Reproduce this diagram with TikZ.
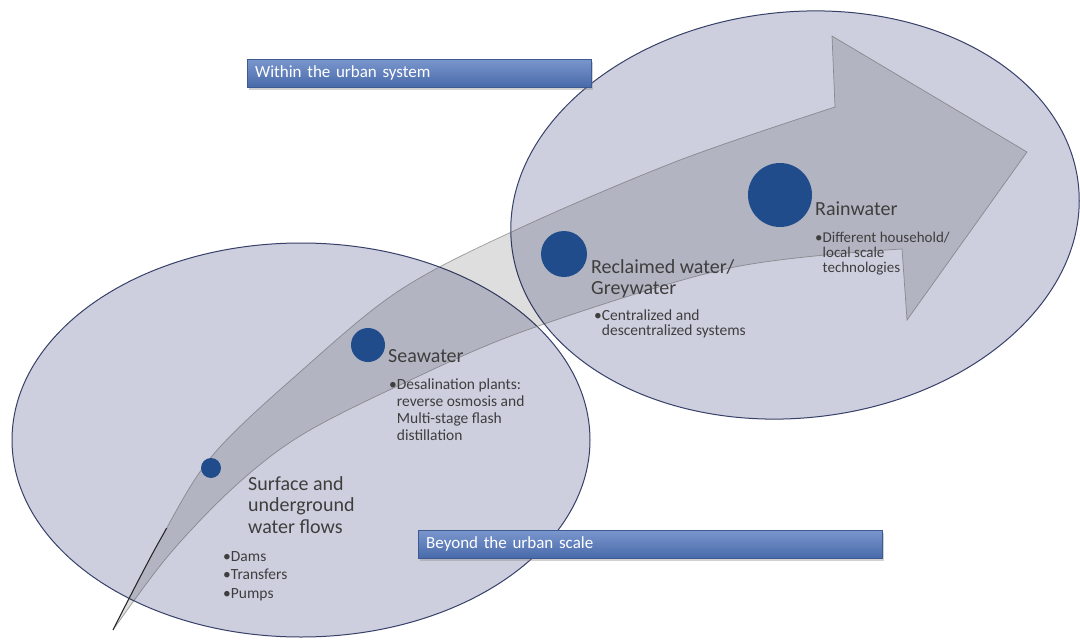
\documentclass[tikz,border=0pt]{standalone}
\usepackage{fontspec}
\setmainfont{Carlito}
\usetikzlibrary{shadows}

\definecolor{ellfill}{RGB}{205,207,222}
\definecolor{ellline}{RGB}{55,64,105}
\definecolor{dotblue}{RGB}{32,76,140}
\definecolor{txt}{RGB}{62,62,62}
\definecolor{bartop}{RGB}{122,150,205}
\definecolor{barbot}{RGB}{72,106,170}

% edges of the curved flow arrow
\def\flowupper{(113,630) (160,540) (212,456) (300,372) (400,290) (520,228) (680,160) (835,107)}
\def\flowlower{(902,249) (730,268) (527,330) (400,385) (300,436) (233,488) (168,556) (113,630)}

% text block whose reference point is the baseline of its first line
\newcommand\stackedtext[1]{\begin{tabular}[t]{@{}l@{}}#1\end{tabular}}

\begin{document}
\begin{tikzpicture}[x=1pt,y=-1pt,
  zone/.style={fill=ellfill, draw=ellline, line width=1pt},
  flow/.style={fill=black, fill opacity=0.13, draw=black!60, draw opacity=0.6, line width=0.7pt},
  dot/.style={circle, fill=dotblue, inner sep=0pt},
  head/.style={text=txt, font=\fontsize{20}{21.5}\selectfont, anchor=base west, inner sep=0pt},
  item/.style={text=txt, font=\fontsize{15.5}{17}\selectfont, anchor=base west, inner sep=0pt},
  bar/.style={top color=bartop, bottom color=barbot, draw=barbot!85!black, line width=0.4pt,
    drop shadow={shadow xshift=1.5pt, shadow yshift=-2.5pt, opacity=0.35},
    anchor=north west, minimum height=28pt, inner xsep=8pt, inner ysep=0pt,
    text=white, font=\fontsize{17}{18}\selectfont, align=left}
]
\useasboundingbox (0,0) rectangle (1080,640);
\fill[white] (0,0) rectangle (1080,640);

% the two scales
\draw[zone] (301,440) ellipse [x radius=289pt, y radius=197pt];
\draw[zone, rotate around={6:(795,215)}] (795,215) ellipse [x radius=285pt, y radius=203pt];

% curved arrow
\path[flow] (113,630) -- plot[smooth, tension=0.55] coordinates {\flowupper}
  -- (832,36) -- (1027,152) -- (907,320) -- (902,249)
  -- plot[smooth, tension=0.55] coordinates {\flowlower} -- cycle;
\begin{scope}
  \clip (0,528) rectangle (300,640);
  \draw[black!85, line width=1pt] plot[smooth, tension=0.55] coordinates {\flowupper};
\end{scope}

% water sources
\node[dot, minimum size=20pt] (surf) at (211,468) {};
\node[dot, minimum size=34pt] (sea) at (368,345) {};
\node[dot, minimum size=46pt] (recl) at (564,254) {};
\node[dot, minimum size=64pt] (rain) at (780,195) {};

\node[head] (surfT) at (248,490) {\stackedtext{Surface and\\underground\\water flows}};
\node[item, font=\fontsize{15.5}{18.5}\selectfont] (surfL) at (223,561) {\stackedtext{\textbullet Dams\\\textbullet Transfers\\\textbullet Pumps}};

\node[head] (seaT) at (388,362) {Seawater};
\node[item] (seaL) at (389,389) {\stackedtext{\textbullet Desalination plants:\\\phantom{\textbullet}reverse osmosis and\\\phantom{\textbullet}Multi-stage flash\\\phantom{\textbullet}distillation}};

\node[head] (reclT) at (591,273) {\stackedtext{Reclaimed water/\\Greywater}};
\node[item, font=\fontsize{15.5}{15.5}\selectfont] (reclL) at (594,320) {\stackedtext{\textbullet Centralized and\\\phantom{\textbullet}descentralized systems}};

\node[head] (rainT) at (815,215) {Rainwater};
\node[item, font=\fontsize{15}{15}\selectfont] (rainL) at (815,242) {\stackedtext{\textbullet Different household/\\\phantom{\textbullet}local scale\\\phantom{\textbullet}technologies}};

% scale labels
\node[bar, minimum width=344pt, text width=328pt] (within) at (247,59) {Within the urban system};
\node[bar, minimum width=464pt, text width=448pt] (beyond) at (418,530) {Beyond the urban scale};
\end{tikzpicture}
\end{document}
